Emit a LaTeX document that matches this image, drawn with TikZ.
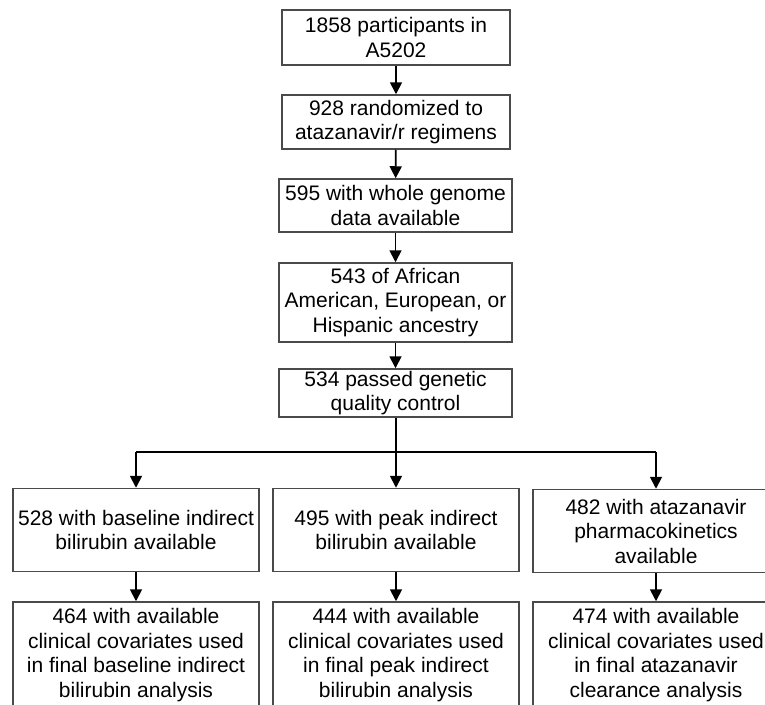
\documentclass[tikz,border=0pt]{standalone}
\usepackage{fontspec}
\setmainfont{Liberation Sans}
\usetikzlibrary{arrows.meta}
\definecolor{edge}{HTML}{4A4A4A}
\begin{document}
\begin{tikzpicture}[x=1pt,y=-1pt,
  box/.style={draw=edge,line width=1.5pt,align=center,inner sep=0pt,
    font=\fontsize{21}{24.5}\selectfont,text=black},
  conn/.style={draw=black,line width=1.8pt,-{Triangle[length=12pt,width=12pt]}},
  plain/.style={draw=black,line width=1.8pt}]
\useasboundingbox (0,0) rectangle (765,704);
\fill[white] (0,0) rectangle (765,704);
\node[box,minimum width=228pt,minimum height=55pt] (b1) at (396,37.5) {1858 participants in\\A5202};
\node[box,minimum width=228pt,minimum height=54pt] (b2) at (396,122) {928 randomized to\\atazanavir/r regimens};
\node[box,minimum width=233pt,minimum height=53pt] (b3) at (395.5,205.5) {595 with whole genome\\data available};
\node[box,minimum width=233pt,minimum height=79pt] (b4) at (395.5,302.5) {543 of African\\American, European, or\\Hispanic ancestry};
\node[box,minimum width=233pt,minimum height=48pt] (b5) at (395.5,393) {534 passed genetic\\quality control};
\node[box,minimum width=246pt,minimum height=83pt] (b6) at (136,530) {528 with baseline indirect\\bilirubin available};
\node[box,minimum width=246pt,minimum height=83pt] (b7) at (396,530) {495 with peak indirect\\bilirubin available};
\node[box,minimum width=246pt,minimum height=83pt] (b8) at (656,531) {482 with atazanavir\\pharmacokinetics\\available};
\node[box,minimum width=246pt,minimum height=106pt] (b9) at (136,655) {464 with available\\clinical covariates used\\in final baseline indirect\\bilirubin analysis};
\node[box,minimum width=246pt,minimum height=106pt] (b10) at (396,655) {444 with available\\clinical covariates used\\in final peak indirect\\bilirubin analysis};
\node[box,minimum width=246pt,minimum height=106pt] (b11) at (656,655) {474 with available\\clinical covariates used\\in final atazanavir\\clearance analysis};
\coordinate (jl) at (136,452);
\coordinate (jm) at (396,452);
\coordinate (jr) at (656,452);
\draw[conn] (b1) -- (b2);
\draw[conn] (b2) -- (b3);
\draw[conn] (b3) -- (b4);
\draw[conn] (b4) -- (b5);
\draw[conn] (b5.south -| jm) -- (b7);
\draw[plain] (jl) -- (jr);
\draw[conn] (jl) -- (b6);
\draw[conn] (jr) -- (b8);
\draw[conn] (b6) -- (b9);
\draw[conn] (b7) -- (b10);
\draw[conn] (b8) -- (b11);
\end{tikzpicture}
\end{document}
